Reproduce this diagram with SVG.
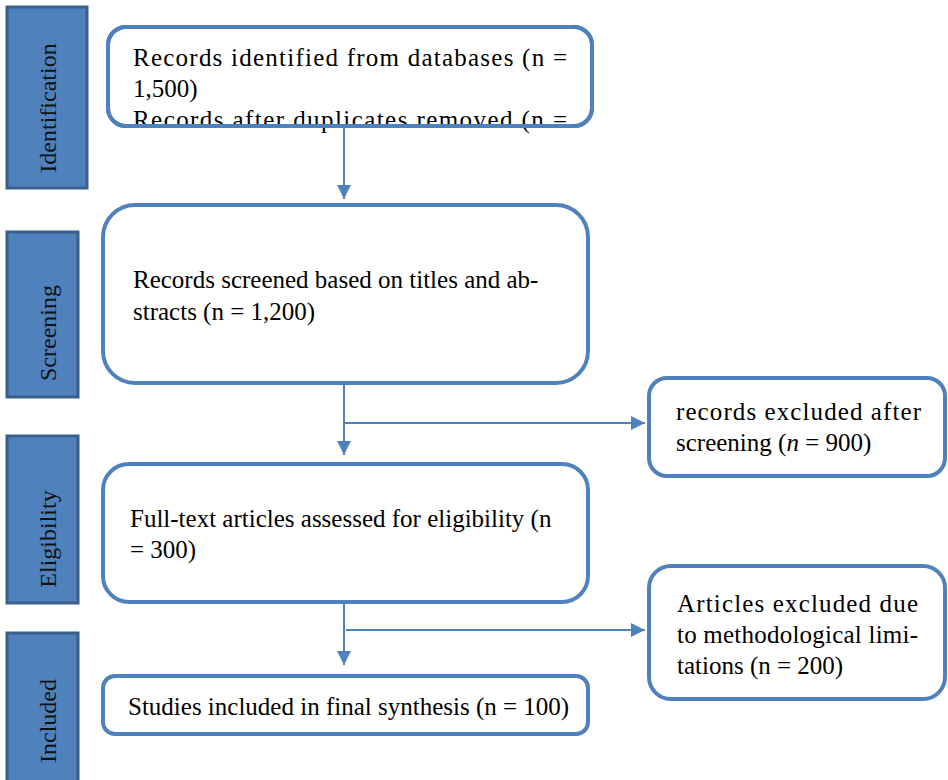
<svg xmlns="http://www.w3.org/2000/svg" width="948" height="780" viewBox="0 0 948 780">
<style>
.side{fill:#4F81BD;stroke:#3A5F8B;stroke-width:3}
.sidetxt{font-family:"Liberation Serif",serif;font-size:24px;fill:#111;text-anchor:middle}
.box{fill:#fff;stroke:#4F81BD;stroke-width:4}
.boxline{fill:none;stroke:#4F81BD;stroke-width:4}
.lbl{font-family:"Liberation Serif",serif;font-size:25px;fill:#000}
.con{fill:none;stroke:#4F81BD;stroke-width:2}
</style>
<defs>
<marker id="arr" markerUnits="userSpaceOnUse" markerWidth="14" markerHeight="14" refX="14" refY="7" orient="auto">
<path d="M0,0 L14,7 L0,14 z" fill="#4F81BD"/>
</marker>
</defs>
<rect width="948" height="780" fill="#fff"/>

<g id="phase-identification">
<rect class="side" x="7" y="7" width="80" height="181"/>
<text class="sidetxt" transform="translate(56,108) rotate(-90)">Identification</text>
</g>
<g id="phase-screening">
<rect class="side" x="7" y="232" width="71" height="165"/>
<text class="sidetxt" transform="translate(56,333) rotate(-90)">Screening</text>
</g>
<g id="phase-eligibility">
<rect class="side" x="7" y="436" width="71" height="167"/>
<text class="sidetxt" transform="translate(56,539) rotate(-90)">Eligibility</text>
</g>
<g id="phase-included">
<rect class="side" x="7" y="633" width="71" height="160"/>
<text class="sidetxt" transform="translate(56,721) rotate(-90)">Included</text>
</g>

<g id="connectors">
<line class="con" x1="344" y1="127" x2="344" y2="199" marker-end="url(#arr)"/>
<line class="con" x1="344" y1="384" x2="344" y2="455" marker-end="url(#arr)"/>
<line class="con" x1="344" y1="423" x2="645" y2="423" marker-end="url(#arr)"/>
<line class="con" x1="344" y1="594" x2="344" y2="665" marker-end="url(#arr)"/>
<line class="con" x1="346" y1="630" x2="645" y2="630" marker-end="url(#arr)"/>
</g>

<g id="node-identified" font-family="Liberation Serif, serif">
<rect class="box" x="108" y="27" width="484" height="99" rx="18"/>
<text class="lbl" x="133" y="66" textLength="434" lengthAdjust="spacing">Records identified from databases (n =</text>
<text class="lbl" x="133" y="97">1,500)</text>
<text class="lbl" x="133" y="128" textLength="434" lengthAdjust="spacing">Records after duplicates removed (n =</text>
<rect class="boxline" x="108" y="27" width="484" height="99" rx="18"/>
</g>

<g id="node-screened" font-family="Liberation Serif, serif">
<rect class="box" x="103" y="205" width="485" height="178" rx="32"/>
<text class="lbl" x="133" y="288">Records screened based on titles and ab-</text>
<text class="lbl" x="133" y="320">stracts (n = 1,200)</text>
</g>

<g id="node-excluded-screening" font-family="Liberation Serif, serif">
<rect class="box" x="649" y="378" width="296" height="98" rx="18"/>
<text class="lbl" x="676" y="420" textLength="245" lengthAdjust="spacing">records excluded after</text>
<text class="lbl" x="676" y="451">screening (<tspan font-style="italic">n</tspan> = 900)</text>
</g>

<g id="node-fulltext" font-family="Liberation Serif, serif">
<rect class="box" x="103" y="464" width="485" height="138" rx="26"/>
<text class="lbl" x="130" y="527">Full-text articles assessed for eligibility (n</text>
<text class="lbl" x="130" y="558">= 300)</text>
</g>

<g id="node-excluded-methods" font-family="Liberation Serif, serif">
<rect class="box" x="649" y="566" width="296" height="133" rx="22"/>
<text class="lbl" x="677" y="612" textLength="241" lengthAdjust="spacing">Articles excluded due</text>
<text class="lbl" x="677" y="643" textLength="241" lengthAdjust="spacing">to methodological limi-</text>
<text class="lbl" x="677" y="674">tations (n = 200)</text>
</g>

<g id="node-included" font-family="Liberation Serif, serif">
<rect class="box" x="103" y="676" width="485" height="58" rx="12"/>
<text class="lbl" x="128" y="715">Studies included in final synthesis (n = 100)</text>
</g>
</svg>
